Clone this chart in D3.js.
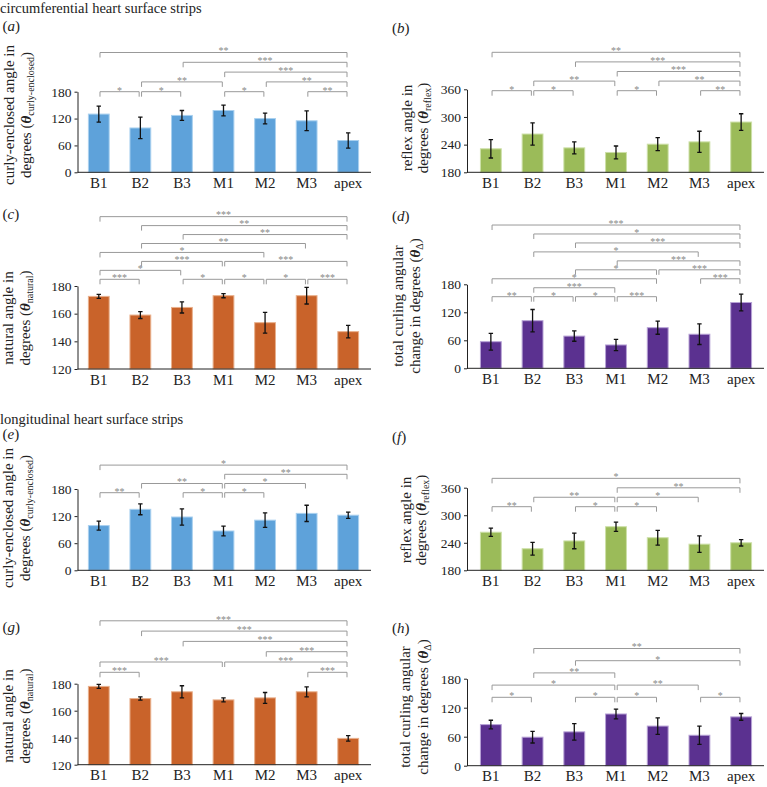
<!DOCTYPE html>
<html>
<head>
<meta charset="utf-8">
<script src="https://cdn.jsdelivr.net/npm/d3@7"></script>
<style>
body { margin: 0; background: #fff; }
text { font-family: "Liberation Serif", "Times New Roman", serif; }
</style>
</head>
<body>
<svg id="fig"></svg>
<script>
var categories = ["B1", "B2", "B3", "M1", "M2", "M3", "apex"];

// circumferential strips (mean, error)
var circCurly = [130, 99, 127, 138, 120, 115, 71];
var circCurlyErr = [18, 24, 11, 12, 12, 22, 17];
var circReflex = [231, 263, 233, 223, 241, 246, 289];
var circReflexErr = [20, 24, 13, 14, 14, 23, 18];
var circNatural = [172.5, 159, 164.5, 173, 153.5, 173, 147];
var circNaturalErr = [1.5, 2.5, 4, 1.5, 7.5, 6, 4.5];
var circDelta = [57, 102, 69, 50, 87, 73, 141];
var circDeltaErr = [18, 24, 11, 12, 14, 22, 18];

// longitudinal strips
var longCurly = [99, 135, 118, 87, 111, 126, 122];
var longCurlyErr = [10, 12, 18, 11, 16, 18, 7];
var longReflex = [263, 227, 244, 275, 251, 237, 240];
var longReflexErr = [9, 14, 17, 10, 16, 18, 7];
var longNatural = [178, 169, 174, 168, 169.5, 174, 139.5];
var longNaturalErr = [1.5, 1.2, 4.5, 1.5, 4, 3.7, 2];
var longDelta = [85, 59, 70, 107, 82, 63, 101];
var longDeltaErr = [9, 12, 17, 10, 17, 19, 7];

// significance brackets: [from, to, stars, level]
var sigA = [["B1","B2","*",0],["B2","B3","*",0],["M1","M2","*",0],["M3","apex","**",0],
	["B2","M1","**",1],["M2","apex","**",1],["M1","apex","***",2],["B3","apex","***",3],["B1","apex","**",4]];
var sigB = [["B1","B2","*",0],["B2","B3","*",0],["M1","M2","*",0],["M3","apex","**",0],
	["B2","M1","**",1],["M2","apex","**",1],["M1","apex","***",2],["B3","apex","***",3],["B1","apex","**",4]];
var sigC = [["B1","B2","***",0],["B3","M1","*",0],["M1","M2","*",0],["M2","M3","*",0],["M3","apex","***",0],
	["B1","B3","*",1],["B2","M1","***",2],["M1","apex","***",2],["B1","M2","*",3],["B2","M3","**",4],
	["B3","apex","**",5],["B2","apex","**",6],["B1","apex","***",7]];
var sigD = [["B1","B2","**",0],["B2","B3","*",0],["B3","M1","*",0],["M1","M2","***",0],
	["B2","M1","***",1],["B1","M2","*",2],["M3","apex","***",2],["B3","M2","*",3],["M2","apex","***",3],
	["M1","apex","***",4],["B2","M3","*",5],["B3","apex","***",6],["B2","apex","*",7],["B1","apex","***",8]];
var sigE = [["B1","B2","**",0],["B3","M1","*",0],["M1","M2","*",0],
	["B2","M1","**",1],["M1","M3","*",1],["M1","apex","**",2],["B1","apex","*",3]];
var sigF = [["B1","B2","**",0],["B3","M1","*",0],["M1","M2","*",0],
	["B2","M1","**",1],["M1","M3","*",1],["M1","apex","**",2],["B1","apex","*",3]];
var sigG = [["B1","B2","***",0],["M3","apex","***",0],["B1","M1","***",1],["M1","apex","***",1],
	["M2","apex","***",2],["B3","apex","***",3],["B2","apex","***",4],["B1","apex","***",5]];
var sigH = [["B1","B2","*",0],["B3","M1","*",0],["M1","M2","*",0],["M3","apex","*",0],
	["B1","M1","*",1],["M1","M3","**",1],["B2","M1","**",2],["B3","apex","*",3],["B2","apex","**",4]];

var ticks0 = [0, 60, 120, 180];
var ticksReflex = [180, 240, 300, 360];
var ticksNatural = [120, 140, 160, 180];

var blue = "#5ea2da", green = "#9bbb59", orange = "#c9632a", purple = "#5b3190";
var blueEdge = "#a9d0ef", greenEdge = "#cde0a8", orangeEdge = "#e9b08c", purpleEdge = "#b7a2d6";

var columns = [
	{axis: 77.5, x0: 78, x1: 369},
	{axis: 467, x0: 470, x1: 762}
];

var titleCurly = ["curly-enclosed angle in", "curly-enclosed"];
var titleReflex = ["reflex angle in", "reflex"];
var titleNatural = ["natural angle in", "natural"];
var titleDelta = ["total curling angular", "\u0394"];

var panels = [
	{letter: "a", col: 0, v: circCurly, e: circCurlyErr, domain: [0, 180], ticks: ticks0, fill: blue, edge: blueEdge,
		base: 172.3, top: 91.7, sig: sigA, bY: 91.7, bStep: 9.8, title: titleCurly, tx: [14, 31], tc: 115, ly: 31},
	{letter: "b", col: 1, v: circReflex, e: circReflexErr, domain: [180, 360], ticks: ticksReflex, fill: green, edge: greenEdge,
		base: 172.3, top: 89.3, sig: sigB, bY: 90.7, bStep: 9.6, title: titleReflex, tx: [412, 428], tc: 128, ly: 33},
	{letter: "c", col: 0, v: circNatural, e: circNaturalErr, domain: [120, 180], ticks: ticksNatural, fill: orange, edge: orangeEdge,
		base: 369, top: 286, sig: sigC, bY: 279.3, bStep: 8.95, title: titleNatural, tx: [13, 30], tc: 318, ly: 219},
	{letter: "d", col: 1, v: circDelta, e: circDeltaErr, domain: [0, 180], ticks: ticks0, fill: purple, edge: purpleEdge,
		base: 368.3, top: 284.3, sig: sigD, bY: 296.7, bStep: 8.96, title: titleDelta, tx: [403, 420], tc: 306, ly: 221},
	{letter: "e", col: 0, v: longCurly, e: longCurlyErr, domain: [0, 180], ticks: ticks0, fill: blue, edge: blueEdge,
		base: 570.3, top: 489, sig: sigE, bY: 492.7, bStep: 9.2, title: titleCurly, tx: [13, 30], tc: 518, ly: 439},
	{letter: "f", col: 1, v: longReflex, e: longReflexErr, domain: [180, 360], ticks: ticksReflex, fill: green, edge: greenEdge,
		base: 570.3, top: 487.7, sig: sigF, bY: 506.7, bStep: 9.45, title: titleReflex, tx: [411, 426], tc: 520, ly: 442},
	{letter: "g", col: 0, v: longNatural, e: longNaturalErr, domain: [120, 180], ticks: ticksNatural, fill: orange, edge: orangeEdge,
		base: 764.7, top: 683.7, sig: sigG, bY: 672.3, bStep: 10.3, title: titleNatural, tx: [13, 30], tc: 716, ly: 632},
	{letter: "h", col: 1, v: longDelta, e: longDeltaErr, domain: [0, 180], ticks: ticks0, fill: purple, edge: purpleEdge,
		base: 765.7, top: 678.7, sig: sigH, bY: 697.3, bStep: 12.2, title: titleDelta, tx: [410, 428], tc: 707, ly: 633}
];

var svg = d3.select("#fig").attr("width", 767).attr("height", 787);

svg.append("text").attr("x", 0).attr("y", 13).attr("font-size", 14.5).attr("fill", "#222")
	.text("circumferential heart surface strips");
svg.append("text").attr("x", 0).attr("y", 424).attr("font-size", 14.5).attr("fill", "#222")
	.text("longitudinal heart surface strips");

panels.forEach(function(p) {
	var c = columns[p.col];
	var x = d3.scaleBand().domain(categories).range([c.x0, c.x1]).paddingInner(0.5).paddingOuter(0.25);
	var y = d3.scaleLinear().domain(p.domain).range([p.base, p.top]);
	var g = svg.append("g");
	var bw = x.bandwidth();

	// panel letter
	var lt = g.append("text").attr("x", c.axis - 75).attr("y", p.ly).attr("font-size", 15).attr("fill", "#222");
	lt.append("tspan").text("(");
	lt.append("tspan").attr("font-style", "italic").text(p.letter);
	lt.append("tspan").text(")");

	// y title (two lines, rotated)
	g.append("text")
		.attr("transform", "translate(" + p.tx[0] + "," + p.tc + ") rotate(-90)")
		.attr("text-anchor", "middle").attr("font-size", 15).attr("fill", "#222")
		.text(p.title[0]);
	var t2 = g.append("text")
		.attr("transform", "translate(" + p.tx[1] + "," + p.tc + ") rotate(-90)")
		.attr("text-anchor", "middle").attr("font-size", 15).attr("fill", "#222");
	t2.append("tspan").text(p.title[1] === "\u0394" ? "change in degrees (" : "degrees (");
	t2.append("tspan").attr("font-style", "italic").attr("font-weight", "bold").text("\u03b8");
	t2.append("tspan").attr("font-size", 10).attr("dy", 3).text(p.title[1]);
	t2.append("tspan").attr("dy", -3).text(")");

	// bars
	g.append("g").selectAll("rect")
		.data(categories)
		.enter()
		.append("rect")
		.attr("x", function(d) { return x(d); })
		.attr("y", function(d, i) { return y(p.v[i]); })
		.attr("width", bw)
		.attr("height", function(d, i) { return y(p.domain[0]) - y(p.v[i]); })
		.attr("fill", p.fill)
		.attr("stroke", p.edge)
		.attr("stroke-width", 1);

	// error bars
	var eb = g.append("g").attr("stroke", "#111").attr("stroke-width", 1.3).attr("fill", "none");
	categories.forEach(function(d, i) {
		var cx = x(d) + bw / 2;
		var y1 = y(p.v[i] + p.e[i]), y2 = y(p.v[i] - p.e[i]);
		eb.append("path").attr("d", "M" + cx + "," + y1 + "V" + y2 +
			"M" + (cx - 2.2) + "," + y1 + "H" + (cx + 2.2) +
			"M" + (cx - 2.2) + "," + y2 + "H" + (cx + 2.2));
	});

	// axes
	var ya = g.append("g").attr("transform", "translate(" + c.axis + ",0)")
		.call(d3.axisLeft(y).tickValues(p.ticks).tickSize(3).tickSizeOuter(0).tickPadding(3));
	ya.selectAll("text").attr("font-size", 13.5).attr("fill", "#222")
		.style("font-family", "'Liberation Serif', 'Times New Roman', serif");
	ya.select(".domain").attr("stroke", "#222");
	ya.selectAll(".tick line").attr("stroke", "#222");

	var xa = g.append("g").attr("transform", "translate(0," + p.base + ")")
		.call(d3.axisBottom(x).tickSize(0).tickPadding(5));
	xa.select(".domain").remove();
	xa.selectAll("text").attr("font-size", 15).attr("fill", "#222")
		.style("font-family", "'Liberation Serif', 'Times New Roman', serif");
	g.append("line").attr("x1", c.axis).attr("x2", c.x1 + 2)
		.attr("y1", p.base).attr("y2", p.base).attr("stroke", "#222");

	// significance brackets
	var sg = g.append("g");
	p.sig.forEach(function(s) {
		var xa1 = x(s[0]) + bw / 2 + 1.2, xb1 = x(s[1]) + bw / 2 - 1.2;
		var ly = p.bY - s[3] * p.bStep;
		sg.append("path")
			.attr("d", "M" + xa1 + "," + (ly + 5) + "V" + ly + "H" + xb1 + "V" + (ly + 5))
			.attr("fill", "none").attr("stroke", "#999").attr("stroke-width", 1);
		sg.append("text")
			.attr("x", (xa1 + xb1) / 2).attr("y", ly + 1.8)
			.attr("text-anchor", "middle").attr("font-size", 10).attr("fill", "#888")
			.text(s[2]);
	});
});
</script>
</body>
</html>
